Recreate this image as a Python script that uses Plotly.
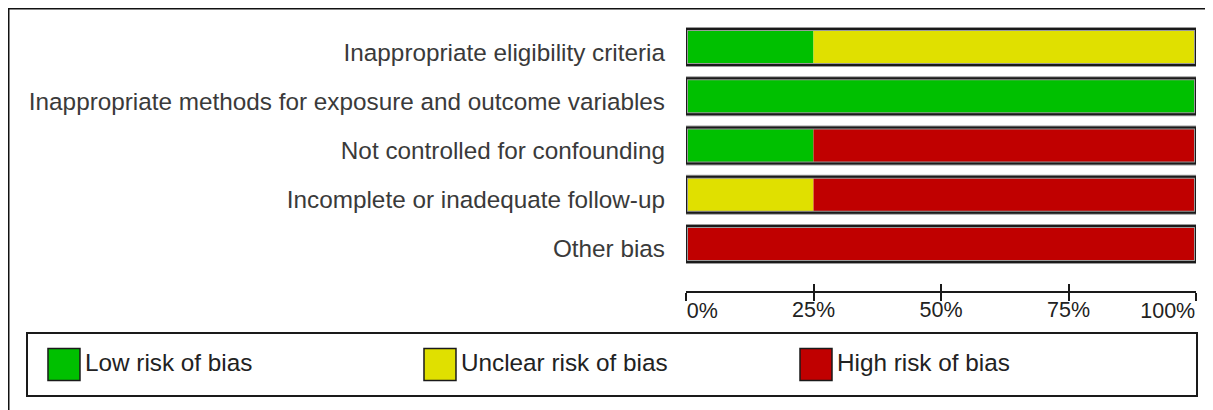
import plotly.graph_objects as go

# ---- data ----
domains = [
    "Inappropriate eligibility criteria",
    "Inappropriate methods for exposure and outcome variables",
    "Not controlled for confounding",
    "Incomplete or inadequate follow-up",
    "Other bias",
]
low_risk = [25, 100, 25, 0, 0]
unclear_risk = [75, 0, 0, 25, 0]
high_risk = [0, 0, 75, 75, 100]
series_names = ["Low risk of bias", "Unclear risk of bias", "High risk of bias"]
series_colors = ["#00C000", "#E0E000", "#C00000"]
tick_values = [0, 25, 50, 75, 100]
tick_labels = ["0%", "25%", "50%", "75%", "100%"]

W, H = 1213, 410
OFF = 8  # page body margin


def px_x(p):
    return (p - OFF) / W


def px_y(p):
    return 1 - (p - OFF) / H


fig = go.Figure()

series_values = [low_risk, unclear_risk, high_risk]
bases = [0] * len(domains)
for name, vals, col in zip(series_names, series_values, series_colors):
    fig.add_trace(go.Bar(
        y=domains, x=vals, base=list(bases), orientation="h", name=name,
        marker=dict(color=col, line=dict(width=0)),
        width=0.73, showlegend=False, hoverinfo="x+y",
        xaxis="x", yaxis="y",
    ))
    bases = [b + v for b, v in zip(bases, vals)]

totals = bases
# outline (grey halo + dark border)
fig.add_trace(go.Bar(
    y=domains, x=totals, base=[0] * len(domains), orientation="h",
    marker=dict(color="rgba(0,0,0,0)", line=dict(width=4, color="#9a9a9a")),
    width=0.73, showlegend=False, hoverinfo="skip",
))
fig.add_trace(go.Bar(
    y=domains, x=totals, base=[0] * len(domains), orientation="h",
    marker=dict(color="rgba(0,0,0,0)", line=dict(width=2, color="#1a1a1a")),
    width=0.73, showlegend=False, hoverinfo="skip",
))

# helper traces for overlaid x axes (tick halves and edge-aligned labels)
for ax in ["x2", "x4", "x5"]:
    fig.add_trace(go.Scatter(x=[None], y=[None], xaxis=ax, yaxis="y",
                             showlegend=False, hoverinfo="skip"))

# legend drawn as its own small subplot
fig.add_trace(go.Scatter(
    x=list(range(len(series_names))), y=[0] * len(series_names),
    mode="markers+text", text=series_names, textposition="middle right",
    marker=dict(symbol="square", size=32, color=series_colors,
                line=dict(color="#1a1a1a", width=1.5)),
    textfont=dict(family="Liberation Sans, Arial, sans-serif", size=24.3, color="#222222"),
    xaxis="x3", yaxis="y3", showlegend=False, hoverinfo="skip", cliponaxis=False,
))

xdom = [px_x(686), px_x(1196)]
axis_pos = px_y(292)
tickfont = dict(size=21.5, color="#222222")

common_label_axis = dict(
    domain=xdom, range=[0, 100], overlaying="x", anchor="free", position=axis_pos,
    showgrid=False, zeroline=False, showline=False, automargin=False,
    ticks="outside", ticklen=8, tickwidth=1.5, tickcolor="rgba(0,0,0,0)",
    ticklabelstandoff=-1, ticklabeloverflow="allow", tickfont=tickfont,
)

fig.update_layout(
    width=W, height=H,
    margin=dict(l=0, r=0, t=0, b=0, autoexpand=False),
    paper_bgcolor="white", plot_bgcolor="white",
    barmode="overlay",
    showlegend=False,
    font=dict(family="Liberation Sans, Arial, sans-serif", color="#333333"),
    xaxis=dict(
        domain=xdom, range=[0, 100], anchor="free", position=axis_pos,
        showgrid=False, zeroline=False, showline=True, linecolor="#1a1a1a", linewidth=1.5,
        ticks="outside", ticklen=8, tickwidth=1.5, tickcolor="#1a1a1a",
        tickvals=tick_values, ticktext=["", tick_labels[1], tick_labels[2], tick_labels[3], ""],
        automargin=False, ticklabeloverflow="allow", ticklabelstandoff=-10,
        tickfont=tickfont,
    ),
    xaxis2=dict(
        domain=xdom, range=[0, 100], overlaying="x", anchor="free", position=axis_pos,
        showgrid=False, zeroline=False, showline=False, automargin=False,
        ticks="inside", ticklen=8, tickwidth=1.5, tickcolor="#1a1a1a",
        tickvals=tick_values, showticklabels=False,
    ),
    xaxis4=dict(common_label_axis, tickvals=[tick_values[0]], ticktext=[tick_labels[0]],
                ticklabelposition="outside right"),
    xaxis5=dict(common_label_axis, tickvals=[tick_values[-1]], ticktext=[tick_labels[-1]],
                ticklabelposition="outside left"),
    yaxis=dict(
        domain=[px_y(268.6), px_y(22.4)], range=[4.5, -0.5],
        categoryorder="array", categoryarray=domains,
        showgrid=False, zeroline=False, showline=False, ticks="",
        ticklabelstandoff=20, ticklabelshift=-5, automargin=False,
        tickfont=dict(size=24.3, color="#3a3a3a"),
        anchor="x",
    ),
    xaxis3=dict(
        domain=[px_x(28), px_x(1196)], range=[-0.0957, 3.0106],
        showgrid=False, zeroline=False, showticklabels=False, ticks="",
        showline=True, mirror=True, linecolor="#1a1a1a", linewidth=1.5, anchor="y3",
        automargin=False,
    ),
    yaxis3=dict(
        domain=[px_y(395), px_y(334)], range=[-1, 1],
        showgrid=False, zeroline=False, showticklabels=False, ticks="",
        showline=True, mirror=True, linecolor="#1a1a1a", linewidth=1.5, anchor="x3",
        automargin=False,
    ),
    shapes=[
        dict(type="rect", xref="paper", yref="paper",
             x0=px_x(8.5), y0=-0.2, x1=1.2, y1=px_y(8.5),
             line=dict(color="#111111", width=2), fillcolor="rgba(0,0,0,0)", layer="above"),
    ],
)

fig.write_html("out.html")
